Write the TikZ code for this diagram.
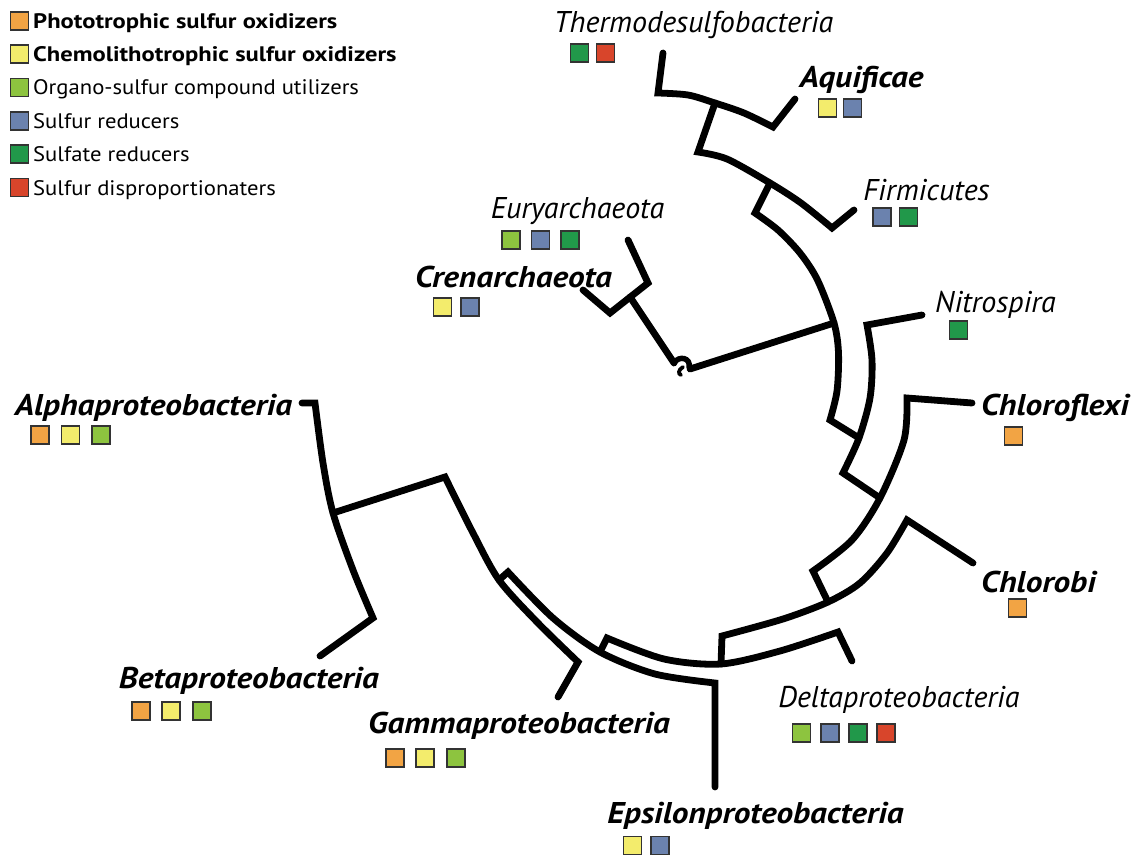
\documentclass[tikz,border=0pt]{standalone}
\usepackage{fontspec}
\setmainfont{PT Sans}
\newfontfamily\labR{PT Sans}
\newfontfamily\labB[FakeStretch=1.11]{PT Sans}
\newfontfamily\lgR[FakeStretch=1.08]{PT Sans}
\newfontfamily\lgB[FakeStretch=1.17]{PT Sans}
\definecolor{cOr}{RGB}{242,164,68}
\definecolor{cYe}{RGB}{243,236,108}
\definecolor{cOl}{RGB}{141,196,63}
\definecolor{cBl}{RGB}{107,130,174}
\definecolor{cGr}{RGB}{33,152,74}
\definecolor{cRe}{RGB}{216,69,43}
\tikzset{
  branch/.style={line width=6.8pt, line cap=round, line join=miter, draw=black},
  sq/.style={draw=black!80, line width=1.3pt, minimum size=18pt, inner sep=0pt, outer sep=0pt},
  lgtext/.style={font=\lgR\fontsize{21}{24}\selectfont, inner sep=0pt, anchor=base west},
  lgtextb/.style={font=\lgB\fontsize{21}{24}\selectfont\bfseries, inner sep=0pt, anchor=base west},
  lab/.style={font=\labR\fontsize{30}{32}\selectfont\itshape, inner sep=0pt, anchor=base},
  labb/.style={font=\labB\fontsize{30}{32}\selectfont\bfseries\itshape, inner sep=0pt, anchor=base},
}
\begin{document}
\begin{tikzpicture}[x=1pt,y=-1pt]
\useasboundingbox (0,0) rectangle (1134,856);
% ---------- legend ----------
\node[sq,fill=cOr] (lg1) at (19.5,21) {};
\node[sq,fill=cYe] (lg2) at (19.5,54) {};
\node[sq,fill=cOl] (lg3) at (19.5,87.5) {};
\node[sq,fill=cBl] (lg4) at (19.5,121) {};
\node[sq,fill=cGr] (lg5) at (19.5,154) {};
\node[sq,fill=cRe] (lg6) at (19.5,187.5) {};
\node[lgtextb] (lt1) at (33,28.5) {Phototrophic sulfur oxidizers};
\node[lgtextb] (lt2) at (33,61.5) {Chemolithotrophic sulfur oxidizers};
\node[lgtext] (lt3) at (33,95) {Organo-sulfur compound utilizers};
\node[lgtext] (lt4) at (33,128.5) {Sulfur reducers};
\node[lgtext] (lt5) at (33,161.5) {Sulfate reducers};
\node[lgtext] (lt6) at (33,195) {Sulfur disproportionaters};
% ---------- coordinates ----------
% archaea
\coordinate (arA) at (674,363);
\coordinate (arJ) at (630,297);
\coordinate (crC) at (610,313);
\coordinate (euC) at (648,283);
\coordinate (crL) at (583,290);
\coordinate (euL) at (628,240);
% bacteria stem
\coordinate (baS) at (690,369);
% A1
\coordinate (a1T) at (755,213);
\coordinate (a1p1) at (778,230);
\coordinate (a1p2) at (800,253);
\coordinate (a1p3) at (817.5,280);
\coordinate (a1J) at (834,323);
\coordinate (a1p4) at (838.5,353);
\coordinate (a1p5) at (837,391);
\coordinate (a1B) at (830,420);
% Thermo-Aquificae-Firmicutes
\coordinate (tfT) at (698,152);
\coordinate (tfp1) at (727,159);
\coordinate (tfJ) at (770,183);
\coordinate (tfp2) at (801,203);
\coordinate (fiC) at (832,228);
\coordinate (fiL) at (854,210);
\coordinate (thC) at (658,93);
\coordinate (tap1) at (688,95);
\coordinate (taJ) at (715,103);
\coordinate (tap2) at (744,113);
\coordinate (aqC) at (773,127);
\coordinate (thL) at (663,53);
\coordinate (aqL) at (795,99);
% A2
\coordinate (niC) at (867,325);
\coordinate (a2p1) at (872,360);
\coordinate (a2p2) at (870,398);
\coordinate (a2J) at (859,438);
\coordinate (a2B) at (843,473);
\coordinate (niL) at (922,315);
% A3
\coordinate (cfC) at (907,398);
\coordinate (a3p1) at (904,440);
\coordinate (a3J) at (880,498);
\coordinate (a3p2) at (852,540);
\coordinate (a3B) at (813,571);
\coordinate (cfL) at (972,403);
% A4
\coordinate (cbC) at (907,520);
\coordinate (a4p1) at (887,553);
\coordinate (a4p3) at (860,583);
\coordinate (a4J) at (828,602);
\coordinate (a4p2) at (783,619);
\coordinate (a4B) at (722,636);
\coordinate (cbL) at (973,563);
% A5
\coordinate (deC) at (838,632);
\coordinate (a5p1) at (780,651);
\coordinate (a5J) at (721,664);
\coordinate (a5p2) at (664,659);
\coordinate (a5B) at (607,638);
\coordinate (deL) at (852,661);
% arc Y
\coordinate (yT) at (508,572);
\coordinate (yp1) at (553,618);
\coordinate (yJ) at (600,652);
\coordinate (yp2) at (655,674);
\coordinate (epC) at (715,683);
\coordinate (epL) at (715,787);
% arc X
\coordinate (xT) at (445,477);
\coordinate (xp1) at (473,533);
\coordinate (xJ) at (499,580);
\coordinate (xp2) at (537,622);
\coordinate (gaC) at (578,662);
\coordinate (gaL) at (558,697);
% alpha-beta
\coordinate (alC) at (315,403);
\coordinate (abp1) at (323,463);
\coordinate (abJ) at (333,513);
\coordinate (abp2) at (353,570);
\coordinate (beC) at (373,618);
\coordinate (alL) at (302,403);
\coordinate (beL) at (320,656);
% ---------- tree ----------
\draw[branch] (crL) -- (crC) -- (euC) -- (euL);
\draw[branch] (arJ) -- (arA);
\draw[line width=5.5pt, line cap=round] (arA) .. controls (679,355) and (691,358) .. (689,367);
\draw[line width=3.8pt, line cap=round] (683,367) .. controls (678,370) and (678,374) .. (681,375);
\draw[branch] (baS) -- (a1J);
\draw[branch] (thL) -- plot[smooth] coordinates {(thC) (tap1) (taJ) (tap2) (aqC)} -- (aqL);
\draw[branch] (taJ) -- plot[smooth] coordinates {(tfT) (tfp1) (tfJ) (tfp2) (fiC)} -- (fiL);
\draw[branch] (tfJ) -- plot[smooth] coordinates {(a1T) (a1p1) (a1p2) (a1p3) (a1J) (a1p4) (a1p5) (a1B)} -- (a2J);
\draw[branch] (niL) -- plot[smooth] coordinates {(niC) (a2p1) (a2p2) (a2J) (a2B)} -- (a3J);
\draw[branch] (cfL) -- plot[smooth] coordinates {(cfC) (a3p1) (a3J) (a3p2) (a3B)} -- (a4J);
\draw[branch] (cbL) -- plot[smooth] coordinates {(cbC) (a4p1) (a4p3) (a4J) (a4p2) (a4B)} -- (a5J);
\draw[branch] (deL) -- plot[smooth] coordinates {(deC) (a5p1) (a5J) (a5p2) (a5B)} -- (yJ);
\draw[branch] (xJ) -- plot[smooth] coordinates {(yT) (yp1) (yJ) (yp2) (epC)} -- (epL);
\draw[branch] (abJ) -- plot[smooth] coordinates {(xT) (xp1) (xJ) (xp2) (gaC)} -- (gaL);
\draw[branch] (alL) -- plot[smooth] coordinates {(alC) (abp1) (abJ) (abp2) (beC)} -- (beL);
% ---------- labels ----------
\node[lab] (thN) at (693.5,33) {Thermodesulfobacteria};
\node[sq,fill=cGr] (th1) at (579.5,53) {};
\node[sq,fill=cRe] (th2) at (605.5,53) {};
\node[labb] (aqN) at (861.5,88) {Aquificae};
\node[sq,fill=cYe] (aq1) at (827.5,108) {};
\node[sq,fill=cBl] (aq2) at (852.5,108) {};
\node[lab] (fiN) at (926.5,200) {Firmicutes};
\node[sq,fill=cBl] (fi1) at (882,217) {};
\node[sq,fill=cGr] (fi2) at (908.5,217) {};
\node[lab] (euN) at (577.5,218) {Euryarchaeota};
\node[sq,fill=cOl] (eu1) at (511,240) {};
\node[sq,fill=cBl] (eu2) at (540.5,240) {};
\node[sq,fill=cGr] (eu3) at (570,240) {};
\node[labb] (crN) at (513.5,287) {Crenarchaeota};
\node[sq,fill=cYe] (cr1) at (442.5,307) {};
\node[sq,fill=cBl] (cr2) at (470,307) {};
\node[lab] (niN) at (995.5,312) {Nitrospira};
\node[sq,fill=cGr] (ni1) at (958.5,330) {};
\node[labb] (cfN) at (1055,415) {Chloroflexi};
\node[sq,fill=cOr] (cf1) at (1013.5,436) {};
\node[labb] (cbN) at (1038.5,592) {Chlorobi};
\node[sq,fill=cOr] (cb1) at (1017.5,608) {};
\node[labb] (alN) at (153.5,415) {Alphaproteobacteria};
\node[sq,fill=cOr] (al1) at (40,435) {};
\node[sq,fill=cYe] (al2) at (70.5,435) {};
\node[sq,fill=cOl] (al3) at (101,435) {};
\node[labb] (beN) at (249,688) {Betaproteobacteria};
\node[sq,fill=cOr] (be1) at (141,711) {};
\node[sq,fill=cYe] (be2) at (171,711) {};
\node[sq,fill=cOl] (be3) at (202,711) {};
\node[labb] (gaN) at (519,733) {Gammaproteobacteria};
\node[sq,fill=cOr] (ga1) at (395,758) {};
\node[sq,fill=cYe] (ga2) at (425,758) {};
\node[sq,fill=cOl] (ga3) at (456,758) {};
\node[lab] (deN) at (899,707) {Deltaproteobacteria};
\node[sq,fill=cOl] (de1) at (801.5,733) {};
\node[sq,fill=cBl] (de2) at (830,733) {};
\node[sq,fill=cGr] (de3) at (858,733) {};
\node[sq,fill=cRe] (de4) at (886,733) {};
\node[labb] (epN) at (755.5,823) {Epsilonproteobacteria};
\node[sq,fill=cYe] (ep1) at (632.5,845.5) {};
\node[sq,fill=cBl] (ep2) at (660,845.5) {};
\end{tikzpicture}
\end{document}
